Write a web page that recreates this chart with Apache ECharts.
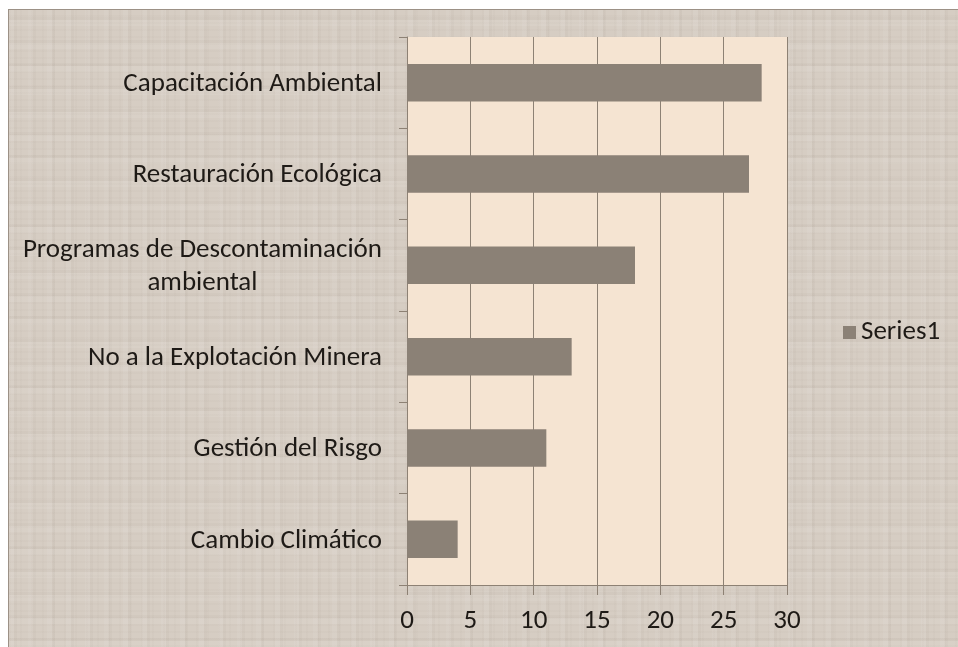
<!DOCTYPE html>
<html>
<head>
<meta charset="utf-8">
<script src="https://cdn.jsdelivr.net/npm/echarts@6/dist/echarts.min.js"></script>
<style>
  html, body { margin: 0; padding: 0; background: #ffffff; }
  #wrap { position: relative; width: 958px; height: 647px; overflow: hidden; }
  /* soft linen-like backdrop behind the chart */
  #linen {
    position: absolute; left: 8px; top: 9px; right: 0; bottom: 0;
    border-left: 1px solid #9c9186; border-top: 1px solid #9c9186;
    background-color: #d6cdc3;
    background-image:
      repeating-linear-gradient(0deg, rgba(255,255,255,0.07) 0px, rgba(255,255,255,0.07) 6px, rgba(110,95,80,0.04) 6px, rgba(110,95,80,0.04) 9px, rgba(255,255,255,0) 9px, rgba(255,255,255,0) 23px),
      repeating-linear-gradient(90deg, rgba(255,255,255,0.06) 0px, rgba(255,255,255,0.06) 5px, rgba(110,95,80,0.04) 5px, rgba(110,95,80,0.04) 8px, rgba(255,255,255,0) 8px, rgba(255,255,255,0) 19px),
      repeating-linear-gradient(0deg, rgba(110,95,80,0.025) 0px, rgba(110,95,80,0.025) 2px, rgba(255,255,255,0) 2px, rgba(255,255,255,0) 7px),
      repeating-linear-gradient(90deg, rgba(110,95,80,0.025) 0px, rgba(110,95,80,0.025) 2px, rgba(255,255,255,0) 2px, rgba(255,255,255,0) 11px);
  }
  #chart { position: absolute; left: 0; top: 0; width: 958px; height: 647px; }
</style>
</head>
<body>
<div id="wrap">
  <div id="linen"></div>
  <div id="chart"></div>
</div>
<script>
// Categories, bottom to top as drawn on the vertical axis
const categories = [
  'Cambio Climático',
  'Gestión del Risgo',
  'No a la Explotación Minera',
  'Programas de Descontaminación\nambiental',
  'Restauración Ecológica',
  'Capacitación Ambiental'
];
const series1 = [4, 11, 13, 18, 27, 28];
const seriesName = 'Series1';
const xTicks = [0, 5, 10, 15, 20, 25, 30];

const textColor = '#1e1a16';
const fontFamily = 'Carlito, Calibri, "Open Sans", "Noto Sans", sans-serif';
const fontSize = 27;

const chart = echarts.init(document.getElementById('chart'), null, { renderer: 'canvas' });

chart.setOption({
  backgroundColor: 'transparent',
  animation: false,
  grid: {
    left: 407, right: 171, top: 37, bottom: 62,
    show: true,
    backgroundColor: '#f5e4d2',
    borderWidth: 0
  },
  legend: {
    data: [seriesName],
    orient: 'vertical',
    left: 843, top: 319,
    padding: 0,
    itemWidth: 13, itemHeight: 13, itemGap: 6,
    icon: 'rect',
    textStyle: { color: textColor, fontSize: fontSize, fontFamily: fontFamily }
  },
  xAxis: {
    type: 'value',
    min: xTicks[0],
    max: xTicks[xTicks.length - 1],
    interval: 5,
    axisLine: { show: true, lineStyle: { color: '#8d8174', width: 1 } },
    axisTick: { show: true, length: 10, inside: false, lineStyle: { color: '#8d8174' } },
    axisLabel: {
      color: textColor, fontSize: fontSize, fontFamily: fontFamily, margin: 23,
      formatter: v => String(v)
    },
    splitLine: { show: true, lineStyle: { color: '#8d8174', width: 1 } }
  },
  yAxis: {
    type: 'category',
    data: categories,
    axisLine: { show: true, lineStyle: { color: '#8d8174', width: 1 } },
    axisTick: { show: true, length: 8, lineStyle: { color: '#8d8174' } },
    axisLabel: {
      margin: 25,
      fontSize: fontSize,
      fontFamily: fontFamily,
      color: textColor,
      lineHeight: 33,
      padding: [3, 0, 0, 0],
      formatter: function (v) {
        const lines = v.split('\n');
        if (lines.length === 1) return v;
        return lines.map(l => '{c|' + l + '}').join('\n');
      },
      rich: {
        c: { align: 'center', fontSize: fontSize, fontFamily: fontFamily, color: textColor, lineHeight: 33 }
      }
    },
    splitLine: { show: false }
  },
  series: [{
    name: seriesName,
    type: 'bar',
    data: series1,
    barCategoryGap: '59%',
    itemStyle: { color: '#8b8176' }
  }]
});
</script>
</body>
</html>
